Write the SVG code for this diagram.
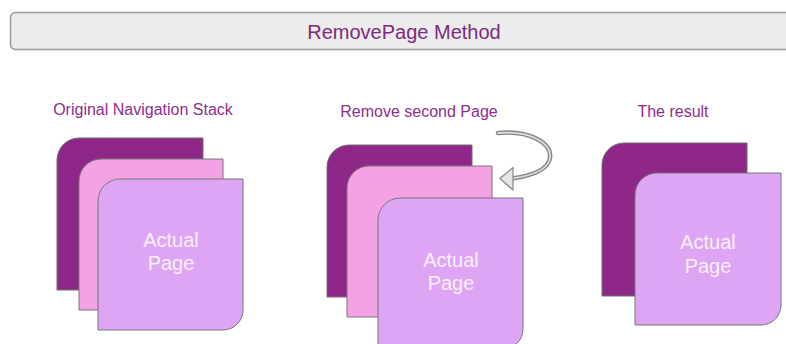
<svg xmlns="http://www.w3.org/2000/svg" width="786" height="344" viewBox="0 0 786 344">
  <defs>
    <style>
      .title { font-family: "Liberation Sans", Arial, sans-serif; font-size: 20px; fill: #7e2a7e; text-anchor: middle; }
      .label { font-family: "Liberation Sans", Arial, sans-serif; font-size: 16px; fill: #8e2d8e; text-anchor: middle; }
      .pagetext { font-family: "Liberation Sans", Arial, sans-serif; font-size: 20px; fill: #f8f0fc; text-anchor: middle; }
      .dark { fill: #8f2789; stroke: #6e6e6e; stroke-width: 1; }
      .pink { fill: #f5a2e5; stroke: #777777; stroke-width: 1; }
      .light { fill: #dea5f5; stroke: #777777; stroke-width: 1; }
    </style>
  </defs>

  <rect width="786" height="344" fill="#ffffff"/>

  <!-- Header bar -->
  <g id="header">
    <rect x="10.5" y="12.5" width="786" height="37" rx="5" ry="5" fill="#ececec" stroke="#9a9a9a" stroke-width="1.5"/>
    <text class="title" x="404" y="39">RemovePage Method</text>
  </g>

  <!-- Stack 1: original navigation stack -->
  <g id="stack-original">
    <text class="label" x="143" y="115">Original Navigation Stack</text>
    <path class="dark" d="M57,160 A22,22 0 0 1 79,138 H203 V290 H57 Z"/>
    <path class="pink" d="M79,181 A22,22 0 0 1 101,159 H223 V310 H79 Z"/>
    <path class="light" d="M98,201 A22,22 0 0 1 120,179 H243 V310 A20,20 0 0 1 223,330 H98 Z"/>
    <text class="pagetext" x="171" y="247">Actual</text>
    <text class="pagetext" x="171" y="270">Page</text>
  </g>

  <!-- Stack 2: second page being removed -->
  <g id="stack-remove">
    <text class="label" x="419" y="117">Remove second Page</text>
    <path class="dark" d="M327,167 A22,22 0 0 1 349,145 H472 V297 H327 Z"/>
    <path class="pink" d="M347,188 A22,22 0 0 1 369,166 H492 V317 H347 Z"/>
    <path class="light" d="M378,220 A22,22 0 0 1 400,198 H523 V329 A20,20 0 0 1 503,349 H378 Z"/>
    <text class="pagetext" x="451" y="267">Actual</text>
    <text class="pagetext" x="451" y="290">Page</text>
  </g>

  <!-- Stack 3: resulting stack -->
  <g id="stack-result">
    <text class="label" x="673" y="117">The result</text>
    <path class="dark" d="M602,165 A22,22 0 0 1 624,143 H747 V296 H602 Z"/>
    <path class="light" d="M635,195 A22,22 0 0 1 657,173 H781 V305 A20,20 0 0 1 761,325 H635 Z"/>
    <text class="pagetext" x="708" y="249">Actual</text>
    <text class="pagetext" x="708" y="273">Page</text>
  </g>

  <!-- Connectors -->
  <g id="connectors">
    <path d="M498,133 C530,130 552,143 550,158 C548,171 530,176 512,178.5" fill="none" stroke="#858585" stroke-width="4.5" stroke-linecap="round"/>
    <path d="M498,133 C530,130 552,143 550,158 C548,171 530,176 512,178.5" fill="none" stroke="#dddddd" stroke-width="1.8" stroke-linecap="round"/>
    <polygon points="500,178.5 513,167.5 513,190" fill="#e6e6e6" stroke="#858585" stroke-width="1.2" stroke-linejoin="round"/>
  </g>
</svg>
